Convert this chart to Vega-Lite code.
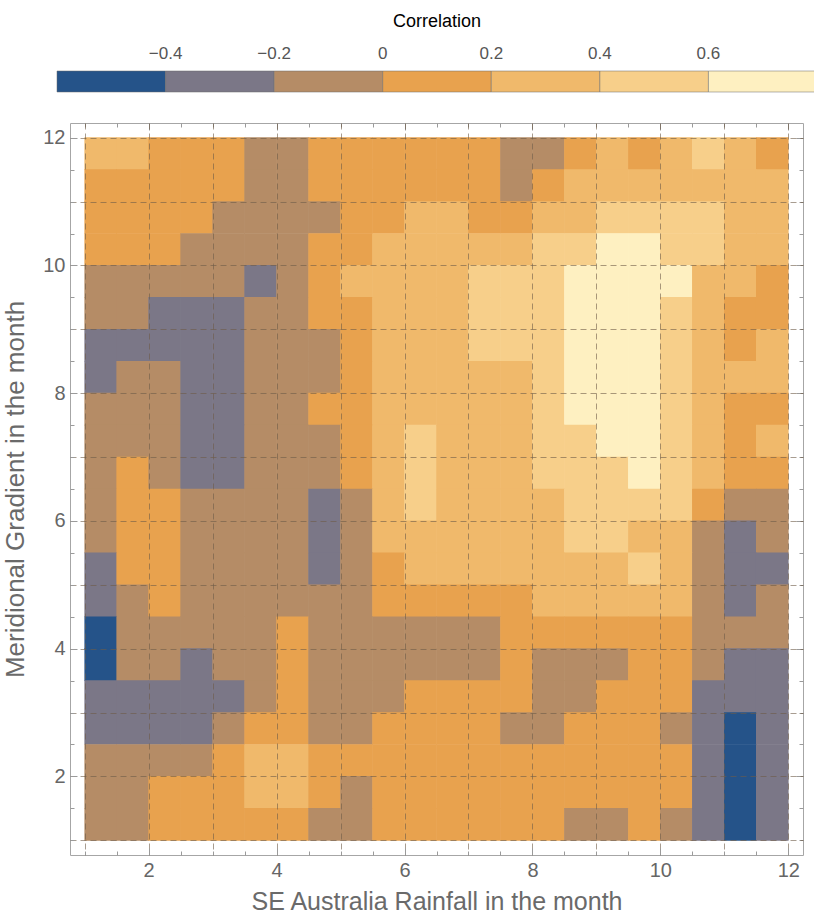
{
"$schema": "https://vega.github.io/schema/vega-lite/v6.json",
"autosize": "none",
"width": 733,
"height": 732,
"padding": {"left": 70, "top": 123, "right": 11, "bottom": 59},
"background": "white",
"config": {
  "font": "Liberation Sans",
  "view": {"stroke": "#a6a6a6", "strokeWidth": 1},
  "axis": {"domain": false, "tickColor": "#9a9a9a", "labelColor": "#666666", "titleColor": "#6a6a6a", "labelFontSize": 20, "titleFontSize": 25, "titleFontWeight": "normal"}
},
"data": {"values": [
{"x":1.25,"y":11.75,"v":0.3},{"x":1.75,"y":11.75,"v":0.3},{"x":2.25,"y":11.75,"v":0.1},{"x":2.75,"y":11.75,"v":0.1},{"x":3.25,"y":11.75,"v":0.1},{"x":3.75,"y":11.75,"v":-0.1},{"x":4.25,"y":11.75,"v":-0.1},{"x":4.75,"y":11.75,"v":0.1},{"x":5.25,"y":11.75,"v":0.1},{"x":5.75,"y":11.75,"v":0.1},{"x":6.25,"y":11.75,"v":0.1},{"x":6.75,"y":11.75,"v":0.1},{"x":7.25,"y":11.75,"v":0.1},{"x":7.75,"y":11.75,"v":-0.1},{"x":8.25,"y":11.75,"v":-0.1},{"x":8.75,"y":11.75,"v":0.1},{"x":9.25,"y":11.75,"v":0.3},{"x":9.75,"y":11.75,"v":0.1},{"x":10.25,"y":11.75,"v":0.3},{"x":10.75,"y":11.75,"v":0.5},{"x":11.25,"y":11.75,"v":0.3},{"x":11.75,"y":11.75,"v":0.1},
{"x":1.25,"y":11.25,"v":0.1},{"x":1.75,"y":11.25,"v":0.1},{"x":2.25,"y":11.25,"v":0.1},{"x":2.75,"y":11.25,"v":0.1},{"x":3.25,"y":11.25,"v":0.1},{"x":3.75,"y":11.25,"v":-0.1},{"x":4.25,"y":11.25,"v":-0.1},{"x":4.75,"y":11.25,"v":0.1},{"x":5.25,"y":11.25,"v":0.1},{"x":5.75,"y":11.25,"v":0.1},{"x":6.25,"y":11.25,"v":0.1},{"x":6.75,"y":11.25,"v":0.1},{"x":7.25,"y":11.25,"v":0.1},{"x":7.75,"y":11.25,"v":-0.1},{"x":8.25,"y":11.25,"v":0.1},{"x":8.75,"y":11.25,"v":0.3},{"x":9.25,"y":11.25,"v":0.3},{"x":9.75,"y":11.25,"v":0.3},{"x":10.25,"y":11.25,"v":0.3},{"x":10.75,"y":11.25,"v":0.3},{"x":11.25,"y":11.25,"v":0.3},{"x":11.75,"y":11.25,"v":0.3},
{"x":1.25,"y":10.75,"v":0.1},{"x":1.75,"y":10.75,"v":0.1},{"x":2.25,"y":10.75,"v":0.1},{"x":2.75,"y":10.75,"v":0.1},{"x":3.25,"y":10.75,"v":-0.1},{"x":3.75,"y":10.75,"v":-0.1},{"x":4.25,"y":10.75,"v":-0.1},{"x":4.75,"y":10.75,"v":-0.1},{"x":5.25,"y":10.75,"v":0.1},{"x":5.75,"y":10.75,"v":0.1},{"x":6.25,"y":10.75,"v":0.3},{"x":6.75,"y":10.75,"v":0.3},{"x":7.25,"y":10.75,"v":0.1},{"x":7.75,"y":10.75,"v":0.1},{"x":8.25,"y":10.75,"v":0.3},{"x":8.75,"y":10.75,"v":0.3},{"x":9.25,"y":10.75,"v":0.5},{"x":9.75,"y":10.75,"v":0.5},{"x":10.25,"y":10.75,"v":0.5},{"x":10.75,"y":10.75,"v":0.5},{"x":11.25,"y":10.75,"v":0.3},{"x":11.75,"y":10.75,"v":0.3},
{"x":1.25,"y":10.25,"v":0.1},{"x":1.75,"y":10.25,"v":0.1},{"x":2.25,"y":10.25,"v":0.1},{"x":2.75,"y":10.25,"v":-0.1},{"x":3.25,"y":10.25,"v":-0.1},{"x":3.75,"y":10.25,"v":-0.1},{"x":4.25,"y":10.25,"v":-0.1},{"x":4.75,"y":10.25,"v":0.1},{"x":5.25,"y":10.25,"v":0.1},{"x":5.75,"y":10.25,"v":0.3},{"x":6.25,"y":10.25,"v":0.3},{"x":6.75,"y":10.25,"v":0.3},{"x":7.25,"y":10.25,"v":0.3},{"x":7.75,"y":10.25,"v":0.3},{"x":8.25,"y":10.25,"v":0.5},{"x":8.75,"y":10.25,"v":0.5},{"x":9.25,"y":10.25,"v":0.7},{"x":9.75,"y":10.25,"v":0.7},{"x":10.25,"y":10.25,"v":0.5},{"x":10.75,"y":10.25,"v":0.5},{"x":11.25,"y":10.25,"v":0.3},{"x":11.75,"y":10.25,"v":0.3},
{"x":1.25,"y":9.75,"v":-0.1},{"x":1.75,"y":9.75,"v":-0.1},{"x":2.25,"y":9.75,"v":-0.1},{"x":2.75,"y":9.75,"v":-0.1},{"x":3.25,"y":9.75,"v":-0.1},{"x":3.75,"y":9.75,"v":-0.3},{"x":4.25,"y":9.75,"v":-0.1},{"x":4.75,"y":9.75,"v":0.1},{"x":5.25,"y":9.75,"v":0.3},{"x":5.75,"y":9.75,"v":0.3},{"x":6.25,"y":9.75,"v":0.3},{"x":6.75,"y":9.75,"v":0.3},{"x":7.25,"y":9.75,"v":0.5},{"x":7.75,"y":9.75,"v":0.5},{"x":8.25,"y":9.75,"v":0.5},{"x":8.75,"y":9.75,"v":0.7},{"x":9.25,"y":9.75,"v":0.7},{"x":9.75,"y":9.75,"v":0.7},{"x":10.25,"y":9.75,"v":0.7},{"x":10.75,"y":9.75,"v":0.3},{"x":11.25,"y":9.75,"v":0.3},{"x":11.75,"y":9.75,"v":0.1},
{"x":1.25,"y":9.25,"v":-0.1},{"x":1.75,"y":9.25,"v":-0.1},{"x":2.25,"y":9.25,"v":-0.3},{"x":2.75,"y":9.25,"v":-0.3},{"x":3.25,"y":9.25,"v":-0.3},{"x":3.75,"y":9.25,"v":-0.1},{"x":4.25,"y":9.25,"v":-0.1},{"x":4.75,"y":9.25,"v":0.1},{"x":5.25,"y":9.25,"v":0.1},{"x":5.75,"y":9.25,"v":0.3},{"x":6.25,"y":9.25,"v":0.3},{"x":6.75,"y":9.25,"v":0.3},{"x":7.25,"y":9.25,"v":0.5},{"x":7.75,"y":9.25,"v":0.5},{"x":8.25,"y":9.25,"v":0.5},{"x":8.75,"y":9.25,"v":0.7},{"x":9.25,"y":9.25,"v":0.7},{"x":9.75,"y":9.25,"v":0.7},{"x":10.25,"y":9.25,"v":0.5},{"x":10.75,"y":9.25,"v":0.3},{"x":11.25,"y":9.25,"v":0.1},{"x":11.75,"y":9.25,"v":0.1},
{"x":1.25,"y":8.75,"v":-0.3},{"x":1.75,"y":8.75,"v":-0.3},{"x":2.25,"y":8.75,"v":-0.3},{"x":2.75,"y":8.75,"v":-0.3},{"x":3.25,"y":8.75,"v":-0.3},{"x":3.75,"y":8.75,"v":-0.1},{"x":4.25,"y":8.75,"v":-0.1},{"x":4.75,"y":8.75,"v":-0.1},{"x":5.25,"y":8.75,"v":0.1},{"x":5.75,"y":8.75,"v":0.3},{"x":6.25,"y":8.75,"v":0.3},{"x":6.75,"y":8.75,"v":0.3},{"x":7.25,"y":8.75,"v":0.5},{"x":7.75,"y":8.75,"v":0.5},{"x":8.25,"y":8.75,"v":0.5},{"x":8.75,"y":8.75,"v":0.7},{"x":9.25,"y":8.75,"v":0.7},{"x":9.75,"y":8.75,"v":0.7},{"x":10.25,"y":8.75,"v":0.5},{"x":10.75,"y":8.75,"v":0.3},{"x":11.25,"y":8.75,"v":0.1},{"x":11.75,"y":8.75,"v":0.3},
{"x":1.25,"y":8.25,"v":-0.3},{"x":1.75,"y":8.25,"v":-0.1},{"x":2.25,"y":8.25,"v":-0.1},{"x":2.75,"y":8.25,"v":-0.3},{"x":3.25,"y":8.25,"v":-0.3},{"x":3.75,"y":8.25,"v":-0.1},{"x":4.25,"y":8.25,"v":-0.1},{"x":4.75,"y":8.25,"v":-0.1},{"x":5.25,"y":8.25,"v":0.1},{"x":5.75,"y":8.25,"v":0.3},{"x":6.25,"y":8.25,"v":0.3},{"x":6.75,"y":8.25,"v":0.3},{"x":7.25,"y":8.25,"v":0.3},{"x":7.75,"y":8.25,"v":0.3},{"x":8.25,"y":8.25,"v":0.5},{"x":8.75,"y":8.25,"v":0.7},{"x":9.25,"y":8.25,"v":0.7},{"x":9.75,"y":8.25,"v":0.7},{"x":10.25,"y":8.25,"v":0.5},{"x":10.75,"y":8.25,"v":0.3},{"x":11.25,"y":8.25,"v":0.3},{"x":11.75,"y":8.25,"v":0.3},
{"x":1.25,"y":7.75,"v":-0.1},{"x":1.75,"y":7.75,"v":-0.1},{"x":2.25,"y":7.75,"v":-0.1},{"x":2.75,"y":7.75,"v":-0.3},{"x":3.25,"y":7.75,"v":-0.3},{"x":3.75,"y":7.75,"v":-0.1},{"x":4.25,"y":7.75,"v":-0.1},{"x":4.75,"y":7.75,"v":0.1},{"x":5.25,"y":7.75,"v":0.1},{"x":5.75,"y":7.75,"v":0.3},{"x":6.25,"y":7.75,"v":0.3},{"x":6.75,"y":7.75,"v":0.3},{"x":7.25,"y":7.75,"v":0.3},{"x":7.75,"y":7.75,"v":0.3},{"x":8.25,"y":7.75,"v":0.5},{"x":8.75,"y":7.75,"v":0.7},{"x":9.25,"y":7.75,"v":0.7},{"x":9.75,"y":7.75,"v":0.7},{"x":10.25,"y":7.75,"v":0.5},{"x":10.75,"y":7.75,"v":0.3},{"x":11.25,"y":7.75,"v":0.1},{"x":11.75,"y":7.75,"v":0.1},
{"x":1.25,"y":7.25,"v":-0.1},{"x":1.75,"y":7.25,"v":-0.1},{"x":2.25,"y":7.25,"v":-0.1},{"x":2.75,"y":7.25,"v":-0.3},{"x":3.25,"y":7.25,"v":-0.3},{"x":3.75,"y":7.25,"v":-0.1},{"x":4.25,"y":7.25,"v":-0.1},{"x":4.75,"y":7.25,"v":-0.1},{"x":5.25,"y":7.25,"v":0.1},{"x":5.75,"y":7.25,"v":0.3},{"x":6.25,"y":7.25,"v":0.5},{"x":6.75,"y":7.25,"v":0.3},{"x":7.25,"y":7.25,"v":0.3},{"x":7.75,"y":7.25,"v":0.3},{"x":8.25,"y":7.25,"v":0.5},{"x":8.75,"y":7.25,"v":0.5},{"x":9.25,"y":7.25,"v":0.7},{"x":9.75,"y":7.25,"v":0.7},{"x":10.25,"y":7.25,"v":0.5},{"x":10.75,"y":7.25,"v":0.3},{"x":11.25,"y":7.25,"v":0.1},{"x":11.75,"y":7.25,"v":0.3},
{"x":1.25,"y":6.75,"v":-0.1},{"x":1.75,"y":6.75,"v":0.1},{"x":2.25,"y":6.75,"v":-0.1},{"x":2.75,"y":6.75,"v":-0.3},{"x":3.25,"y":6.75,"v":-0.3},{"x":3.75,"y":6.75,"v":-0.1},{"x":4.25,"y":6.75,"v":-0.1},{"x":4.75,"y":6.75,"v":-0.1},{"x":5.25,"y":6.75,"v":0.1},{"x":5.75,"y":6.75,"v":0.3},{"x":6.25,"y":6.75,"v":0.5},{"x":6.75,"y":6.75,"v":0.3},{"x":7.25,"y":6.75,"v":0.3},{"x":7.75,"y":6.75,"v":0.3},{"x":8.25,"y":6.75,"v":0.5},{"x":8.75,"y":6.75,"v":0.5},{"x":9.25,"y":6.75,"v":0.5},{"x":9.75,"y":6.75,"v":0.7},{"x":10.25,"y":6.75,"v":0.5},{"x":10.75,"y":6.75,"v":0.3},{"x":11.25,"y":6.75,"v":0.1},{"x":11.75,"y":6.75,"v":0.1},
{"x":1.25,"y":6.25,"v":-0.1},{"x":1.75,"y":6.25,"v":0.1},{"x":2.25,"y":6.25,"v":0.1},{"x":2.75,"y":6.25,"v":-0.1},{"x":3.25,"y":6.25,"v":-0.1},{"x":3.75,"y":6.25,"v":-0.1},{"x":4.25,"y":6.25,"v":-0.1},{"x":4.75,"y":6.25,"v":-0.3},{"x":5.25,"y":6.25,"v":-0.1},{"x":5.75,"y":6.25,"v":0.3},{"x":6.25,"y":6.25,"v":0.5},{"x":6.75,"y":6.25,"v":0.3},{"x":7.25,"y":6.25,"v":0.3},{"x":7.75,"y":6.25,"v":0.3},{"x":8.25,"y":6.25,"v":0.3},{"x":8.75,"y":6.25,"v":0.5},{"x":9.25,"y":6.25,"v":0.5},{"x":9.75,"y":6.25,"v":0.5},{"x":10.25,"y":6.25,"v":0.5},{"x":10.75,"y":6.25,"v":0.1},{"x":11.25,"y":6.25,"v":-0.1},{"x":11.75,"y":6.25,"v":-0.1},
{"x":1.25,"y":5.75,"v":-0.1},{"x":1.75,"y":5.75,"v":0.1},{"x":2.25,"y":5.75,"v":0.1},{"x":2.75,"y":5.75,"v":-0.1},{"x":3.25,"y":5.75,"v":-0.1},{"x":3.75,"y":5.75,"v":-0.1},{"x":4.25,"y":5.75,"v":-0.1},{"x":4.75,"y":5.75,"v":-0.3},{"x":5.25,"y":5.75,"v":-0.1},{"x":5.75,"y":5.75,"v":0.3},{"x":6.25,"y":5.75,"v":0.3},{"x":6.75,"y":5.75,"v":0.3},{"x":7.25,"y":5.75,"v":0.3},{"x":7.75,"y":5.75,"v":0.3},{"x":8.25,"y":5.75,"v":0.3},{"x":8.75,"y":5.75,"v":0.5},{"x":9.25,"y":5.75,"v":0.5},{"x":9.75,"y":5.75,"v":0.3},{"x":10.25,"y":5.75,"v":0.3},{"x":10.75,"y":5.75,"v":-0.1},{"x":11.25,"y":5.75,"v":-0.3},{"x":11.75,"y":5.75,"v":-0.1},
{"x":1.25,"y":5.25,"v":-0.3},{"x":1.75,"y":5.25,"v":0.1},{"x":2.25,"y":5.25,"v":0.1},{"x":2.75,"y":5.25,"v":-0.1},{"x":3.25,"y":5.25,"v":-0.1},{"x":3.75,"y":5.25,"v":-0.1},{"x":4.25,"y":5.25,"v":-0.1},{"x":4.75,"y":5.25,"v":-0.3},{"x":5.25,"y":5.25,"v":-0.1},{"x":5.75,"y":5.25,"v":0.1},{"x":6.25,"y":5.25,"v":0.3},{"x":6.75,"y":5.25,"v":0.3},{"x":7.25,"y":5.25,"v":0.3},{"x":7.75,"y":5.25,"v":0.3},{"x":8.25,"y":5.25,"v":0.3},{"x":8.75,"y":5.25,"v":0.3},{"x":9.25,"y":5.25,"v":0.3},{"x":9.75,"y":5.25,"v":0.5},{"x":10.25,"y":5.25,"v":0.3},{"x":10.75,"y":5.25,"v":-0.1},{"x":11.25,"y":5.25,"v":-0.3},{"x":11.75,"y":5.25,"v":-0.3},
{"x":1.25,"y":4.75,"v":-0.3},{"x":1.75,"y":4.75,"v":-0.1},{"x":2.25,"y":4.75,"v":0.1},{"x":2.75,"y":4.75,"v":-0.1},{"x":3.25,"y":4.75,"v":-0.1},{"x":3.75,"y":4.75,"v":-0.1},{"x":4.25,"y":4.75,"v":-0.1},{"x":4.75,"y":4.75,"v":-0.1},{"x":5.25,"y":4.75,"v":-0.1},{"x":5.75,"y":4.75,"v":0.1},{"x":6.25,"y":4.75,"v":0.1},{"x":6.75,"y":4.75,"v":0.1},{"x":7.25,"y":4.75,"v":0.1},{"x":7.75,"y":4.75,"v":0.1},{"x":8.25,"y":4.75,"v":0.3},{"x":8.75,"y":4.75,"v":0.3},{"x":9.25,"y":4.75,"v":0.3},{"x":9.75,"y":4.75,"v":0.3},{"x":10.25,"y":4.75,"v":0.3},{"x":10.75,"y":4.75,"v":-0.1},{"x":11.25,"y":4.75,"v":-0.3},{"x":11.75,"y":4.75,"v":-0.1},
{"x":1.25,"y":4.25,"v":-0.5},{"x":1.75,"y":4.25,"v":-0.1},{"x":2.25,"y":4.25,"v":-0.1},{"x":2.75,"y":4.25,"v":-0.1},{"x":3.25,"y":4.25,"v":-0.1},{"x":3.75,"y":4.25,"v":-0.1},{"x":4.25,"y":4.25,"v":0.1},{"x":4.75,"y":4.25,"v":-0.1},{"x":5.25,"y":4.25,"v":-0.1},{"x":5.75,"y":4.25,"v":-0.1},{"x":6.25,"y":4.25,"v":-0.1},{"x":6.75,"y":4.25,"v":-0.1},{"x":7.25,"y":4.25,"v":-0.1},{"x":7.75,"y":4.25,"v":0.1},{"x":8.25,"y":4.25,"v":0.1},{"x":8.75,"y":4.25,"v":0.1},{"x":9.25,"y":4.25,"v":0.1},{"x":9.75,"y":4.25,"v":0.1},{"x":10.25,"y":4.25,"v":0.1},{"x":10.75,"y":4.25,"v":-0.1},{"x":11.25,"y":4.25,"v":-0.1},{"x":11.75,"y":4.25,"v":-0.1},
{"x":1.25,"y":3.75,"v":-0.5},{"x":1.75,"y":3.75,"v":-0.1},{"x":2.25,"y":3.75,"v":-0.1},{"x":2.75,"y":3.75,"v":-0.3},{"x":3.25,"y":3.75,"v":-0.1},{"x":3.75,"y":3.75,"v":-0.1},{"x":4.25,"y":3.75,"v":0.1},{"x":4.75,"y":3.75,"v":-0.1},{"x":5.25,"y":3.75,"v":-0.1},{"x":5.75,"y":3.75,"v":-0.1},{"x":6.25,"y":3.75,"v":-0.1},{"x":6.75,"y":3.75,"v":-0.1},{"x":7.25,"y":3.75,"v":-0.1},{"x":7.75,"y":3.75,"v":0.1},{"x":8.25,"y":3.75,"v":-0.1},{"x":8.75,"y":3.75,"v":-0.1},{"x":9.25,"y":3.75,"v":-0.1},{"x":9.75,"y":3.75,"v":0.1},{"x":10.25,"y":3.75,"v":0.1},{"x":10.75,"y":3.75,"v":-0.1},{"x":11.25,"y":3.75,"v":-0.3},{"x":11.75,"y":3.75,"v":-0.3},
{"x":1.25,"y":3.25,"v":-0.3},{"x":1.75,"y":3.25,"v":-0.3},{"x":2.25,"y":3.25,"v":-0.3},{"x":2.75,"y":3.25,"v":-0.3},{"x":3.25,"y":3.25,"v":-0.3},{"x":3.75,"y":3.25,"v":-0.1},{"x":4.25,"y":3.25,"v":0.1},{"x":4.75,"y":3.25,"v":-0.1},{"x":5.25,"y":3.25,"v":-0.1},{"x":5.75,"y":3.25,"v":-0.1},{"x":6.25,"y":3.25,"v":0.1},{"x":6.75,"y":3.25,"v":0.1},{"x":7.25,"y":3.25,"v":0.1},{"x":7.75,"y":3.25,"v":0.1},{"x":8.25,"y":3.25,"v":-0.1},{"x":8.75,"y":3.25,"v":-0.1},{"x":9.25,"y":3.25,"v":0.1},{"x":9.75,"y":3.25,"v":0.1},{"x":10.25,"y":3.25,"v":0.1},{"x":10.75,"y":3.25,"v":-0.3},{"x":11.25,"y":3.25,"v":-0.3},{"x":11.75,"y":3.25,"v":-0.3},
{"x":1.25,"y":2.75,"v":-0.3},{"x":1.75,"y":2.75,"v":-0.3},{"x":2.25,"y":2.75,"v":-0.3},{"x":2.75,"y":2.75,"v":-0.3},{"x":3.25,"y":2.75,"v":-0.1},{"x":3.75,"y":2.75,"v":0.1},{"x":4.25,"y":2.75,"v":0.1},{"x":4.75,"y":2.75,"v":-0.1},{"x":5.25,"y":2.75,"v":-0.1},{"x":5.75,"y":2.75,"v":0.1},{"x":6.25,"y":2.75,"v":0.1},{"x":6.75,"y":2.75,"v":0.1},{"x":7.25,"y":2.75,"v":0.1},{"x":7.75,"y":2.75,"v":-0.1},{"x":8.25,"y":2.75,"v":-0.1},{"x":8.75,"y":2.75,"v":0.1},{"x":9.25,"y":2.75,"v":0.1},{"x":9.75,"y":2.75,"v":0.1},{"x":10.25,"y":2.75,"v":-0.1},{"x":10.75,"y":2.75,"v":-0.3},{"x":11.25,"y":2.75,"v":-0.5},{"x":11.75,"y":2.75,"v":-0.3},
{"x":1.25,"y":2.25,"v":-0.1},{"x":1.75,"y":2.25,"v":-0.1},{"x":2.25,"y":2.25,"v":-0.1},{"x":2.75,"y":2.25,"v":-0.1},{"x":3.25,"y":2.25,"v":0.1},{"x":3.75,"y":2.25,"v":0.3},{"x":4.25,"y":2.25,"v":0.3},{"x":4.75,"y":2.25,"v":0.1},{"x":5.25,"y":2.25,"v":0.1},{"x":5.75,"y":2.25,"v":0.1},{"x":6.25,"y":2.25,"v":0.1},{"x":6.75,"y":2.25,"v":0.1},{"x":7.25,"y":2.25,"v":0.1},{"x":7.75,"y":2.25,"v":0.1},{"x":8.25,"y":2.25,"v":0.1},{"x":8.75,"y":2.25,"v":0.1},{"x":9.25,"y":2.25,"v":0.1},{"x":9.75,"y":2.25,"v":0.1},{"x":10.25,"y":2.25,"v":0.1},{"x":10.75,"y":2.25,"v":-0.3},{"x":11.25,"y":2.25,"v":-0.5},{"x":11.75,"y":2.25,"v":-0.3},
{"x":1.25,"y":1.75,"v":-0.1},{"x":1.75,"y":1.75,"v":-0.1},{"x":2.25,"y":1.75,"v":0.1},{"x":2.75,"y":1.75,"v":0.1},{"x":3.25,"y":1.75,"v":0.1},{"x":3.75,"y":1.75,"v":0.3},{"x":4.25,"y":1.75,"v":0.3},{"x":4.75,"y":1.75,"v":0.1},{"x":5.25,"y":1.75,"v":-0.1},{"x":5.75,"y":1.75,"v":0.1},{"x":6.25,"y":1.75,"v":0.1},{"x":6.75,"y":1.75,"v":0.1},{"x":7.25,"y":1.75,"v":0.1},{"x":7.75,"y":1.75,"v":0.1},{"x":8.25,"y":1.75,"v":0.1},{"x":8.75,"y":1.75,"v":0.1},{"x":9.25,"y":1.75,"v":0.1},{"x":9.75,"y":1.75,"v":0.1},{"x":10.25,"y":1.75,"v":0.1},{"x":10.75,"y":1.75,"v":-0.3},{"x":11.25,"y":1.75,"v":-0.5},{"x":11.75,"y":1.75,"v":-0.3},
{"x":1.25,"y":1.25,"v":-0.1},{"x":1.75,"y":1.25,"v":-0.1},{"x":2.25,"y":1.25,"v":0.1},{"x":2.75,"y":1.25,"v":0.1},{"x":3.25,"y":1.25,"v":0.1},{"x":3.75,"y":1.25,"v":0.1},{"x":4.25,"y":1.25,"v":0.1},{"x":4.75,"y":1.25,"v":-0.1},{"x":5.25,"y":1.25,"v":-0.1},{"x":5.75,"y":1.25,"v":0.1},{"x":6.25,"y":1.25,"v":0.1},{"x":6.75,"y":1.25,"v":0.1},{"x":7.25,"y":1.25,"v":0.1},{"x":7.75,"y":1.25,"v":0.1},{"x":8.25,"y":1.25,"v":0.1},{"x":8.75,"y":1.25,"v":-0.1},{"x":9.25,"y":1.25,"v":-0.1},{"x":9.75,"y":1.25,"v":0.1},{"x":10.25,"y":1.25,"v":-0.1},{"x":10.75,"y":1.25,"v":-0.3},{"x":11.25,"y":1.25,"v":-0.5},{"x":11.75,"y":1.25,"v":-0.3}
]},
"layer": [
  {
    "mark": {"type": "rect", "width": 32.6, "height": 32.6},
    "encoding": {
      "x": {"field": "x", "type": "quantitative",
        "scale": {"domain": [0.77, 12.23], "nice": false, "zero": false},
        "axis": {"title": "SE Australia Rainfall in the month", "zindex": 1,
          "values": [1,1.5,2,2.5,3,3.5,4,4.5,5,5.5,6,6.5,7,7.5,8,8.5,9,9.5,10,10.5,11,11.5,12],
          "format": "~g", "labelExpr": "datum.value % 2 === 0 ? datum.label : ''",
          "grid": true, "gridColor": "#6e5b48", "gridDash": [6, 4], "gridWidth": 1,
          "gridOpacity": {"condition": {"test": "datum.value % 1 === 0", "value": 0.6}, "value": 0},
          "tickSize": {"condition": {"test": "datum.value % 2 === 0", "value": -7}, "value": -4},
          "labelPadding": 12, "titlePadding": 9}},
      "y": {"field": "y", "type": "quantitative",
        "scale": {"domain": [0.77, 12.23], "nice": false, "zero": false},
        "axis": {"title": "Meridional Gradient in the month", "zindex": 1, "titleFontSize": 26,
          "values": [1,1.5,2,2.5,3,3.5,4,4.5,5,5.5,6,6.5,7,7.5,8,8.5,9,9.5,10,10.5,11,11.5,12],
          "format": "~g", "labelExpr": "datum.value % 2 === 0 ? datum.label : ''",
          "grid": true, "gridColor": "#6e5b48", "gridDash": [6, 4], "gridWidth": 1,
          "gridOpacity": {"condition": {"test": "datum.value % 1 === 0", "value": 0.6}, "value": 0},
          "tickSize": {"condition": {"test": "datum.value % 2 === 0", "value": -7}, "value": -4},
          "labelPadding": 12, "titlePadding": 14}},
      "color": {"field": "v", "type": "quantitative",
        "scale": {"type": "threshold", "domain": [-0.4, -0.2, 0, 0.2, 0.4, 0.6],
          "range": ["#255389", "#7b7787", "#b58c66", "#e8a24e", "#f0b96b", "#f7cf8a", "#fef0c1"]},
        "legend": {"type": "gradient", "title": "Correlation", "orient": "none", "legendX": -13, "legendY": -110,
          "direction": "horizontal", "gradientLength": 760, "gradientThickness": 21,
          "gradientStrokeColor": "#6b6b6b", "gradientStrokeWidth": 0.5,
          "titleAnchor": "middle", "titleFontSize": 18, "titleFontWeight": "normal", "titleColor": "#000000",
          "titlePadding": 40, "labelFontSize": 17, "labelColor": "#555555", "labelOffset": -46, "format": "~g"}}
    }
  },
  {
    "mark": {"type": "point", "opacity": 0},
    "encoding": {
      "x": {"field": "x", "type": "quantitative",
        "scale": {"domain": [0.77, 12.23], "nice": false, "zero": false},
        "axis": {"orient": "top", "title": null, "labels": false, "grid": false,
          "values": [1,1.5,2,2.5,3,3.5,4,4.5,5,5.5,6,6.5,7,7.5,8,8.5,9,9.5,10,10.5,11,11.5,12],
          "tickSize": {"condition": {"test": "datum.value % 2 === 0", "value": -7}, "value": -4}}},
      "y": {"field": "y", "type": "quantitative",
        "scale": {"domain": [0.77, 12.23], "nice": false, "zero": false},
        "axis": {"orient": "right", "title": null, "labels": false, "grid": false,
          "values": [1,1.5,2,2.5,3,3.5,4,4.5,5,5.5,6,6.5,7,7.5,8,8.5,9,9.5,10,10.5,11,11.5,12],
          "tickSize": {"condition": {"test": "datum.value % 2 === 0", "value": -7}, "value": -4}}}
    }
  }
],
"resolve": {"axis": {"x": "independent", "y": "independent"}}
}
